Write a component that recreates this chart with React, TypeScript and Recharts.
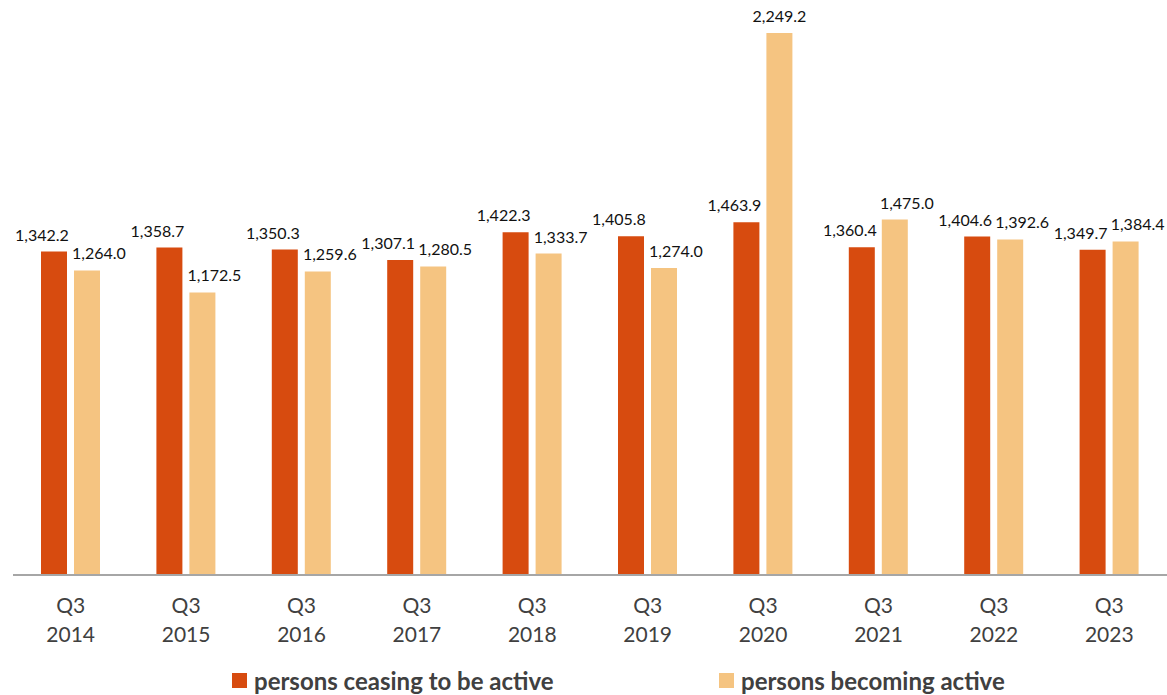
import { BarChart, Bar, XAxis, YAxis, LabelList } from 'recharts'

const quarters = ['Q3', 'Q3', 'Q3', 'Q3', 'Q3', 'Q3', 'Q3', 'Q3', 'Q3', 'Q3']
const years = ['2014', '2015', '2016', '2017', '2018', '2019', '2020', '2021', '2022', '2023']
const ceasing = [1342.2, 1358.7, 1350.3, 1307.1, 1422.3, 1405.8, 1463.9, 1360.4, 1404.6, 1349.7]
const becoming = [1264.0, 1172.5, 1259.6, 1280.5, 1333.7, 1274.0, 2249.2, 1475.0, 1392.6, 1384.4]

const seriesNames = ['persons ceasing to be active', 'persons becoming active']

const ORANGE = '#D74B0F'
const LIGHT = '#F5C481'
const FONT = 'Lato, "Open Sans", sans-serif'
const TEXT = '#404040'

const data = years.map((y, i) => ({
  key: `${quarters[i]} ${y}`,
  ceasing: ceasing[i],
  becoming: becoming[i],
}))

const fmt = (v: number) =>
  v.toLocaleString('en-US', { minimumFractionDigits: 1, maximumFractionDigits: 1 })

function makeLabel(dx: number, tallDx = 0) {
  return (props: any) => {
    const { x, y, width, value } = props
    const shift = value > 2000 ? tallDx : dx
    return (
      <text
        x={x + width / 2 + shift}
        y={y - 11}
        textAnchor="middle"
        fontFamily={FONT}
        fontSize={16}
        fill="#111"
      >
        {fmt(value)}
      </text>
    )
  }
}

function Tick(props: any) {
  const { x, y, index } = props
  return (
    <g>
      <text x={x} y={y + 38} textAnchor="middle" fontFamily={FONT} fontSize={21} fill={TEXT}>
        {quarters[index]}
      </text>
      <text x={x} y={y + 67} textAnchor="middle" fontFamily={FONT} fontSize={21} fill={TEXT}>
        {years[index]}
      </text>
    </g>
  )
}

function LegendItem({ name, color, left }: { name: string; color: string; left: number }) {
  return (
    <div style={{ position: 'absolute', left, top: 664, display: 'flex', alignItems: 'center', height: 32, fontFamily: FONT, whiteSpace: 'nowrap' }}>
      <span style={{ width: 15, height: 15, background: color, marginRight: 7, display: 'inline-block' }} />
      <span style={{ fontSize: 24, fontWeight: 700, color: TEXT }}>{name}</span>
    </div>
  )
}

export default function App() {
  return (
    <div style={{ position: 'absolute', left: 0, top: 0, width: 1167, height: 695, background: '#fff' }}>
      <BarChart
        width={1167}
        height={695}
        data={data}
        margin={{ top: 33, right: 0, left: 13, bottom: 45 }}
        barSize={26}
        barGap={7}
      >
        <XAxis
          dataKey="key"
          tick={<Tick />}
          tickLine={false}
          tickSize={0}
          tickMargin={0}
          axisLine={{ stroke: '#A6A6A6', strokeWidth: 2 }}
          height={75}
          interval={0}
        />
        <YAxis hide domain={[0, 2249.2]} />
        <Bar dataKey="ceasing" name={seriesNames[0]} fill={ORANGE} isAnimationActive={false}>
          <LabelList dataKey="ceasing" content={makeLabel(-12)} />
        </Bar>
        <Bar dataKey="becoming" name={seriesNames[1]} fill={LIGHT} isAnimationActive={false}>
          <LabelList dataKey="becoming" content={makeLabel(12, 0)} />
        </Bar>
      </BarChart>
      <LegendItem name={seriesNames[0]} color={ORANGE} left={232} />
      <LegendItem name={seriesNames[1]} color={LIGHT} left={719} />
    </div>
  )
}
